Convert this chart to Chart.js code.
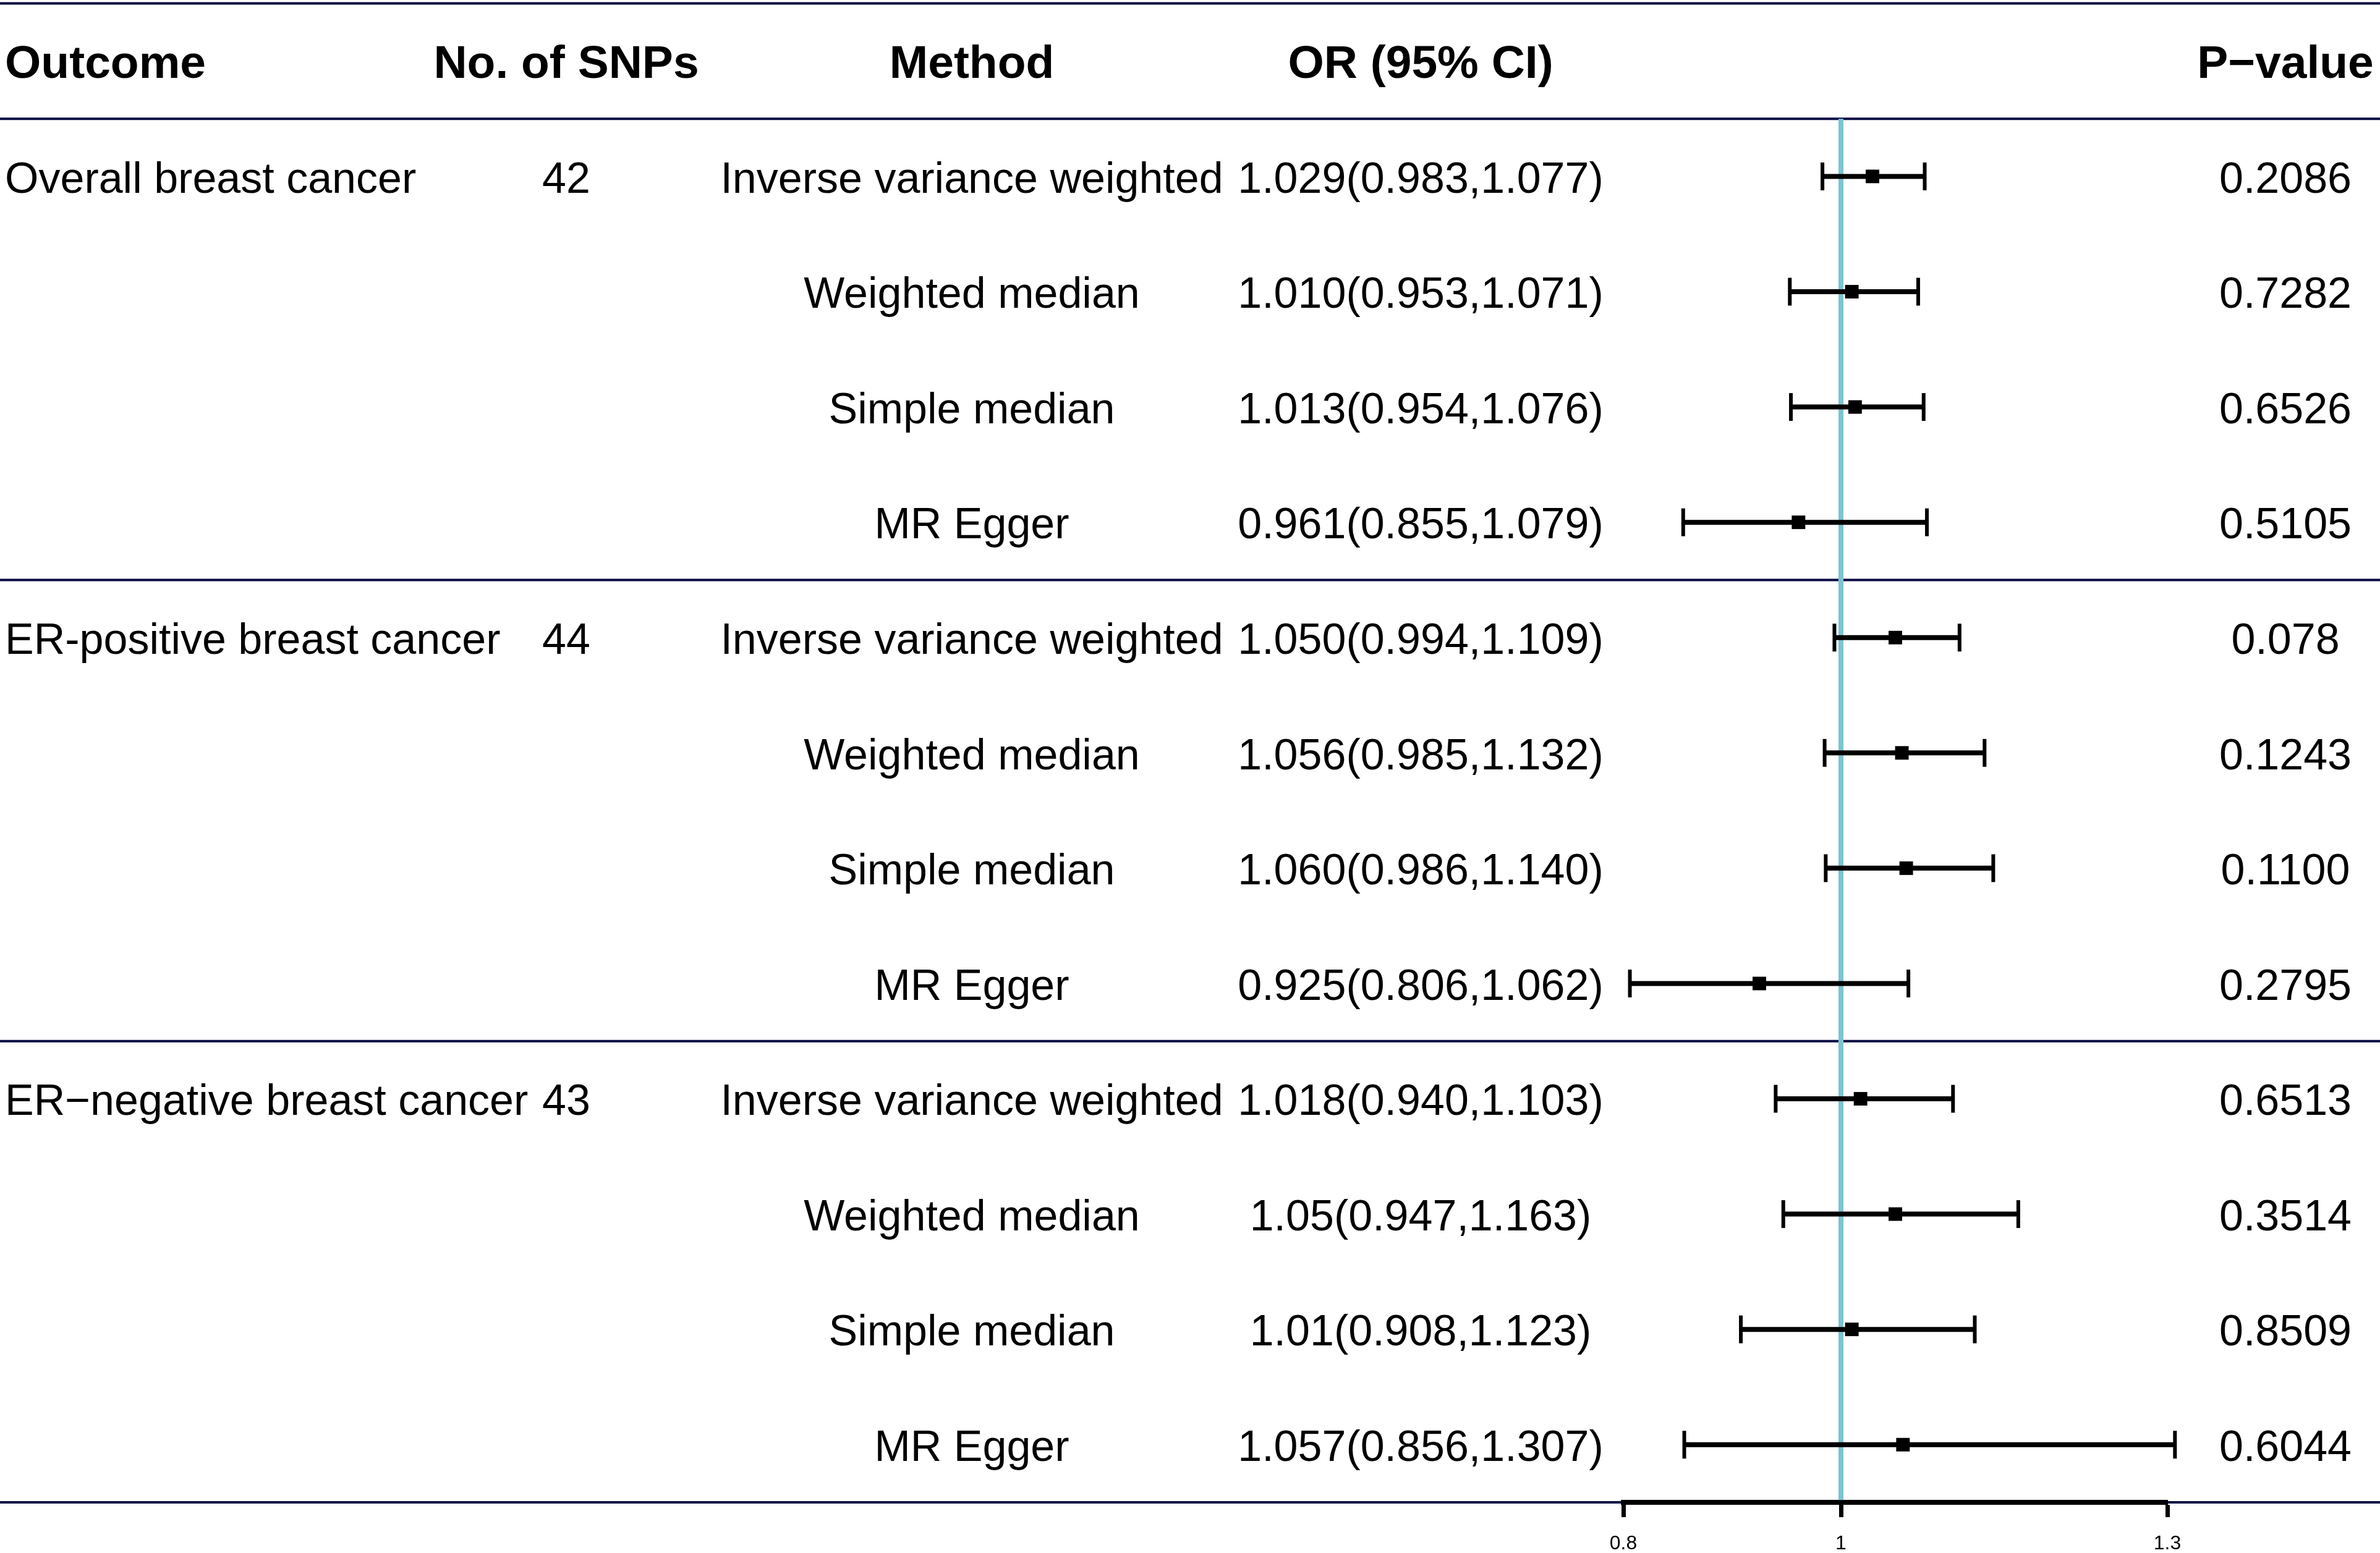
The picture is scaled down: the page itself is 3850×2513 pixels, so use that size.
<!DOCTYPE html>
<html>
<head>
<meta charset="utf-8">
<script src="https://cdn.jsdelivr.net/npm/chart.js@4.4.0/dist/chart.umd.min.js"></script>
<style>
  html, body { margin: 0; padding: 0; background: #fff; }
  #wrap { width: 3850px; height: 2513px; position: relative; }
</style>
</head>
<body>
<div id="wrap"><canvas id="forest"></canvas></div>
<script>
  // Table / forest data, one entry per row (12 rows, 3 outcomes x 4 methods)
  const outcomes = ["Overall breast cancer", "ER-positive breast cancer", "ER\u2212negative breast cancer"];
  const snpCounts = ["42", "44", "43"];
  const methods = [
    "Inverse variance weighted", "Weighted median", "Simple median", "MR Egger",
    "Inverse variance weighted", "Weighted median", "Simple median", "MR Egger",
    "Inverse variance weighted", "Weighted median", "Simple median", "MR Egger"
  ];
  const orValues = [1.029, 1.010, 1.013, 0.961, 1.050, 1.056, 1.060, 0.925, 1.018, 1.05, 1.01, 1.057];
  const ciLower  = [0.983, 0.953, 0.954, 0.855, 0.994, 0.985, 0.986, 0.806, 0.940, 0.947, 0.908, 0.856];
  const ciUpper  = [1.077, 1.071, 1.076, 1.079, 1.109, 1.132, 1.140, 1.062, 1.103, 1.163, 1.123, 1.307];
  const orLabels = [
    "1.029(0.983,1.077)", "1.010(0.953,1.071)", "1.013(0.954,1.076)", "0.961(0.855,1.079)",
    "1.050(0.994,1.109)", "1.056(0.985,1.132)", "1.060(0.986,1.140)", "0.925(0.806,1.062)",
    "1.018(0.940,1.103)", "1.05(0.947,1.163)", "1.01(0.908,1.123)", "1.057(0.856,1.307)"
  ];
  const pValues = ["0.2086", "0.7282", "0.6526", "0.5105", "0.078", "0.1243", "0.1100", "0.2795",
                   "0.6513", "0.3514", "0.8509", "0.6044"];
  const headers = ["Outcome", "No. of SNPs", "Method", "OR (95% CI)", "P\u2212value"];
  const xTicks = [0.8, 1, 1.3];
  const xTickLabels = ["0.8", "1", "1.3"];
  const refValue = 1;

  // layout (canvas px)
  const FONT = '"Liberation Sans", Arial, sans-serif';
  const colOutcome = 8, colSnp = 916, colMethod = 1572, colOr = 2298, colP = 3697;
  const textShift = 7;                   // nudge text baseline to match the marks
  const navy = "#0b0b45";
  const rowsPerGroup = 4;
  const rowY = i => i + 1;               // row index -> y value
  const separators = [-0.5, 0.5, 4.5, 8.5, 12.5];

  const ciSets = orValues.map((v, i) => ({
    data: [{x: ciLower[i], y: rowY(i)}, {x: ciUpper[i], y: rowY(i)}],
    showLine: true,
    borderColor: "#000",
    borderWidth: 8,
    pointStyle: "line",
    pointRotation: 90,
    pointRadius: 22.5,
    pointBorderWidth: 6,
    pointBorderColor: "#000",
    pointBackgroundColor: "#000",
    clip: false,
    order: 1
  }));

  const pointSet = {
    data: orValues.map((v, i) => ({x: v, y: rowY(i)})),
    pointStyle: "rect",
    pointRadius: 15.5,
    pointBackgroundColor: "#000",
    pointBorderWidth: 0,
    clip: false,
    order: 0
  };

  const refSet = {
    data: [{x: refValue, y: 0.5}, {x: refValue, y: 12.48}],
    showLine: true,
    borderColor: "#7AC5D1",
    borderWidth: 8,
    pointRadius: 0,
    clip: false,
    order: 2
  };

  const tablePlugin = {
    id: "forestTable",
    beforeDraw(chart) {
      const ctx = chart.ctx, ys = chart.scales.y;
      ctx.save();
      ctx.strokeStyle = navy;
      ctx.lineWidth = 4;
      separators.forEach(s => {
        const py = ys.getPixelForValue(s);
        ctx.beginPath();
        ctx.moveTo(0, py);
        ctx.lineTo(chart.width, py);
        ctx.stroke();
      });
      ctx.restore();
    },
    afterDraw(chart) {
      const ctx = chart.ctx, ys = chart.scales.y;
      ctx.save();
      ctx.fillStyle = "#000";
      ctx.textBaseline = "middle";

      // header
      const hy = ys.getPixelForValue(0) + textShift - 1;
      ctx.font = "bold 75px " + FONT;
      ctx.textAlign = "left";
      ctx.fillText(headers[0], colOutcome, hy);
      ctx.textAlign = "center";
      ctx.fillText(headers[1], colSnp, hy);
      ctx.fillText(headers[2], colMethod, hy);
      ctx.fillText(headers[3], colOr, hy);
      ctx.fillText(headers[4], colP, hy);

      // rows
      ctx.font = "70px " + FONT;
      outcomes.forEach((o, g) => {
        const py = ys.getPixelForValue(rowY(g * rowsPerGroup)) + textShift;
        ctx.textAlign = "left";
        ctx.fillText(o, colOutcome, py);
        ctx.textAlign = "center";
        ctx.fillText(snpCounts[g], colSnp, py);
      });
      ctx.textAlign = "center";
      methods.forEach((m, i) => {
        const py = ys.getPixelForValue(rowY(i)) + textShift;
        ctx.fillText(m, colMethod, py);
        ctx.fillText(orLabels[i], colOr, py);
        ctx.fillText(pValues[i], colP, py);
      });
      ctx.restore();
    }
  };

  new Chart(document.getElementById("forest"), {
    type: "scatter",
    data: { datasets: [...ciSets, pointSet, refSet] },
    options: {
      responsive: true,
      maintainAspectRatio: false,
      devicePixelRatio: 1,
      animation: false,
      events: [],
      layout: { autoPadding: false, padding: { left: 2626, right: 344, top: 0, bottom: 0 } },
      plugins: { legend: { display: false }, tooltip: { enabled: false } },
      scales: {
        x: {
          type: "linear",
          min: 0.8,
          max: 1.3,
          afterBuildTicks: axis => { axis.ticks = xTicks.map(v => ({ value: v })); },
          afterFit: axis => { axis.height = 82; },
          grid: { drawOnChartArea: false, drawTicks: true, tickLength: 24, tickWidth: 7, tickColor: "#000" },
          border: { display: true, color: "#000", width: 8 },
          ticks: {
            color: "#000",
            padding: 24,
            maxRotation: 0,
            autoSkip: false,
            font: { family: FONT, size: 32 },
            callback: (v, idx) => xTickLabels[idx]
          }
        },
        y: {
          type: "linear",
          display: false,
          reverse: true,
          min: -0.53,
          max: 12.5
        }
      }
    },
    plugins: [tablePlugin]
  });
</script>
</body>
</html>
